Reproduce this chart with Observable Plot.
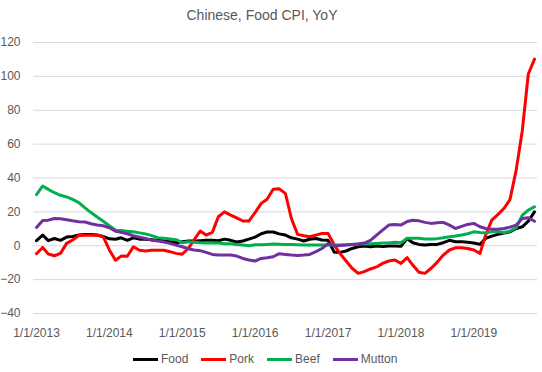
<!DOCTYPE html>
<html>
<head>
<meta charset="utf-8">
<script src="https://cdn.jsdelivr.net/npm/d3@7"></script>
<script src="https://cdn.jsdelivr.net/npm/@observablehq/plot@0.6"></script>
<style>
  html, body { margin: 0; padding: 0; background: #fff; }
  body { width: 542px; height: 372px; position: relative; overflow: hidden; font-family: "Liberation Sans", Arial, sans-serif; }
  #title { position: absolute; left: 0; top: 5px; width: 524px; text-align: center; font-size: 14px; color: #595959; line-height: 20px; }
  #chart { position: absolute; left: 0; top: 28px; }
  #legend { position: absolute; left: 133px; top: 351px; display: flex; align-items: center; font-size: 12px; color: #595959; line-height: 16px; }
  .item { display: flex; align-items: center; margin-right: 13px; }
  .sw { width: 25px; height: 3px; margin-right: 3px; }
</style>
</head>
<body>
<div id="title">Chinese, Food CPI, YoY</div>
<div id="chart"></div>
<div id="legend"></div>
<script>
const title = "Chinese, Food CPI, YoY";
const startMonth = "2013-01-01"; // monthly data, Jan 2013 – Nov 2019
const seriesNames = ["Food", "Pork", "Beef", "Mutton"];
const seriesColors = ["#000000", "#FF0000", "#00B050", "#7030A0"];
const yTicks = [-40, -20, 0, 20, 40, 60, 80, 100, 120];
const xTickLabels = ["1/1/2013", "1/1/2014", "1/1/2015", "1/1/2016", "1/1/2017", "1/1/2018", "1/1/2019"];

const food = [3.0, 6.3, 3.0, 4.3, 3.2, 5.1, 5.5, 6.3, 6.7, 6.7, 6.3, 5.5,
  4.1, 3.8, 4.7, 3.2, 4.7, 3.9, 3.9, 3.6, 3.2, 2.8, 2.4, 1.8,
  2.4, 2.8, 2.8, 3.0, 3.2, 3.2, 3.0, 3.9, 3.2, 2.2, 2.8, 3.9,
  5.1, 7.1, 8.1, 8.1, 7.0, 6.3, 4.7, 3.9, 2.8, 3.8, 4.3, 3.4,
  3.2, -3.9, -3.9, -3.1, -1.6, -0.6, -0.2, -0.6, -0.2, -0.4, -0.2, -0.2,
  -0.3, 4.3, 1.8, 0.8, 0.4, 0.8, 0.8, 1.8, 3.2, 2.4, 2.4, 2.0,
  1.6, 0.8, 4.3, 5.7, 6.7, 7.5, 8.2, 10.2, 11.2, 14.5, 20.0];
const pork = [-4.7, -1.0, -4.9, -5.9, -4.5, 1.4, 3.4, 6.0, 6.2, 6.2, 6.2, 5.4,
  -2.5, -8.6, -6.1, -6.2, -0.6, -2.7, -3.1, -2.7, -2.7, -2.7, -3.5, -4.5,
  -5.0, -1.5, 3.4, 8.7, 6.3, 7.9, 17.1, 20.0, 18.1, 16.5, 14.6, 14.6,
  19.6, 25.0, 27.5, 33.4, 33.6, 30.9, 16.1, 6.7, 5.9, 5.3, 6.3, 7.3,
  7.3, 0.4, -4.5, -9.0, -13.3, -16.3, -15.3, -13.7, -12.5, -10.4, -9.0, -8.4,
  -10.4, -7.0, -11.4, -15.7, -16.3, -13.3, -9.8, -5.5, -2.5, -1.2, -1.2, -1.6,
  -2.5, -4.5, 6.3, 15.1, 18.4, 22.0, 27.2, 44.5, 68.1, 101.4, 110.2];
const beef = [30.2, 35.3, 33.3, 31.3, 29.8, 28.8, 27.4, 25.5, 22.4, 19.6, 17.0, 14.5,
  11.8, 9.2, 9.0, 8.6, 8.3, 7.6, 7.0, 6.0, 4.8, 4.4, 4.0, 3.6,
  1.8, 2.4, 2.0, 1.8, 1.6, 1.6, 1.6, 1.2, 1.2, 0.8, 0.4, 0.0,
  0.6, 0.6, 0.8, 1.0, 0.9, 0.8, 0.8, 0.6, 0.4, 0.4, 0.4, 0.4,
  0.4, 0.4, 0.4, 0.6, 0.8, 1.0, 1.0, 1.2, 1.4, 1.6, 1.6, 2.0,
  1.8, 4.4, 4.4, 4.4, 4.0, 4.0, 4.2, 4.7, 5.3, 5.7, 6.3, 7.1,
  8.2, 7.8, 7.6, 8.2, 8.2, 7.8, 8.6, 10.6, 18.0, 21.0, 23.0];
const mutton = [10.8, 14.9, 15.1, 16.1, 15.9, 15.3, 14.7, 14.2, 14.0, 13.0, 12.2, 11.8,
  10.6, 8.6, 7.9, 7.1, 5.9, 5.1, 4.3, 3.3, 2.8, 2.2, 1.4, 0.4,
  -0.6, -1.8, -2.5, -2.9, -3.9, -5.1, -5.5, -5.5, -5.5, -6.1, -7.5, -8.4,
  -9.0, -7.5, -7.1, -6.5, -4.7, -5.1, -5.5, -5.7, -5.5, -5.1, -3.5, -1.6,
  1.2, -0.2, 0.2, 0.4, 0.8, 1.0, 1.6, 3.2, 6.3, 9.2, 12.2, 12.6,
  12.2, 14.3, 15.1, 14.7, 13.8, 13.2, 13.6, 13.8, 12.2, 10.2, 11.4, 12.6,
  13.2, 11.2, 10.2, 9.8, 9.8, 10.2, 11.0, 12.2, 16.1, 16.5, 14.5];

const seriesValues = [food, pork, beef, mutton];
const start = new Date(startMonth + "T00:00:00Z");
const dates = food.map((_, i) => d3.utcMonth.offset(start, i));
const rows = [];
seriesNames.forEach((name, s) => {
  seriesValues[s].forEach((v, i) => rows.push({series: name, date: dates[i], value: v}));
});
const xTicks = xTickLabels.map(s => {
  const [m, d, y] = s.split("/").map(Number);
  return new Date(Date.UTC(y, m - 1, d));
});
const labelOf = new Map(xTicks.map((t, i) => [+t, xTickLabels[i]]));

const chart = Plot.plot({
  width: 542,
  height: 318,
  marginLeft: 33,
  marginRight: 5,
  marginTop: 14,
  marginBottom: 33,
  style: {fontFamily: "'Liberation Sans', Arial, sans-serif", fontSize: "12px", color: "#595959", background: "#fff"},
  x: {type: "utc", domain: [dates[0], dates[dates.length - 1]], insetLeft: 3, insetRight: 3, ticks: xTicks, tickFormat: d => labelOf.get(+d), tickSize: 0, tickPadding: 15, label: null},
  y: {domain: [-40, 120], ticks: yTicks, tickSize: 0, tickPadding: 13, label: null},
  color: {domain: seriesNames, range: seriesColors},
  marks: [
    Plot.ruleY(yTicks, {stroke: "#D9D9D9", strokeWidth: 1}),
    Plot.axisY({ticks: yTicks, tickSize: 0, tickPadding: 13, label: null, fill: "#595959"}),
    Plot.axisX({ticks: xTicks, tickFormat: d => labelOf.get(+d), tickSize: 0, tickPadding: 15, label: null, fill: "#595959"}),
    Plot.lineY(rows, {x: "date", y: "value", z: "series", stroke: "series", strokeWidth: 3, strokeLinejoin: "round", strokeLinecap: "round"})
  ]
});
document.getElementById("chart").appendChild(chart);

document.getElementById("title").textContent = title;
const legend = document.getElementById("legend");
seriesNames.forEach((name, i) => {
  const it = document.createElement("div");
  it.className = "item";
  const sw = document.createElement("div");
  sw.className = "sw";
  sw.style.background = seriesColors[i];
  const tx = document.createElement("span");
  tx.textContent = name;
  it.appendChild(sw);
  it.appendChild(tx);
  legend.appendChild(it);
});
</script>
</body>
</html>
